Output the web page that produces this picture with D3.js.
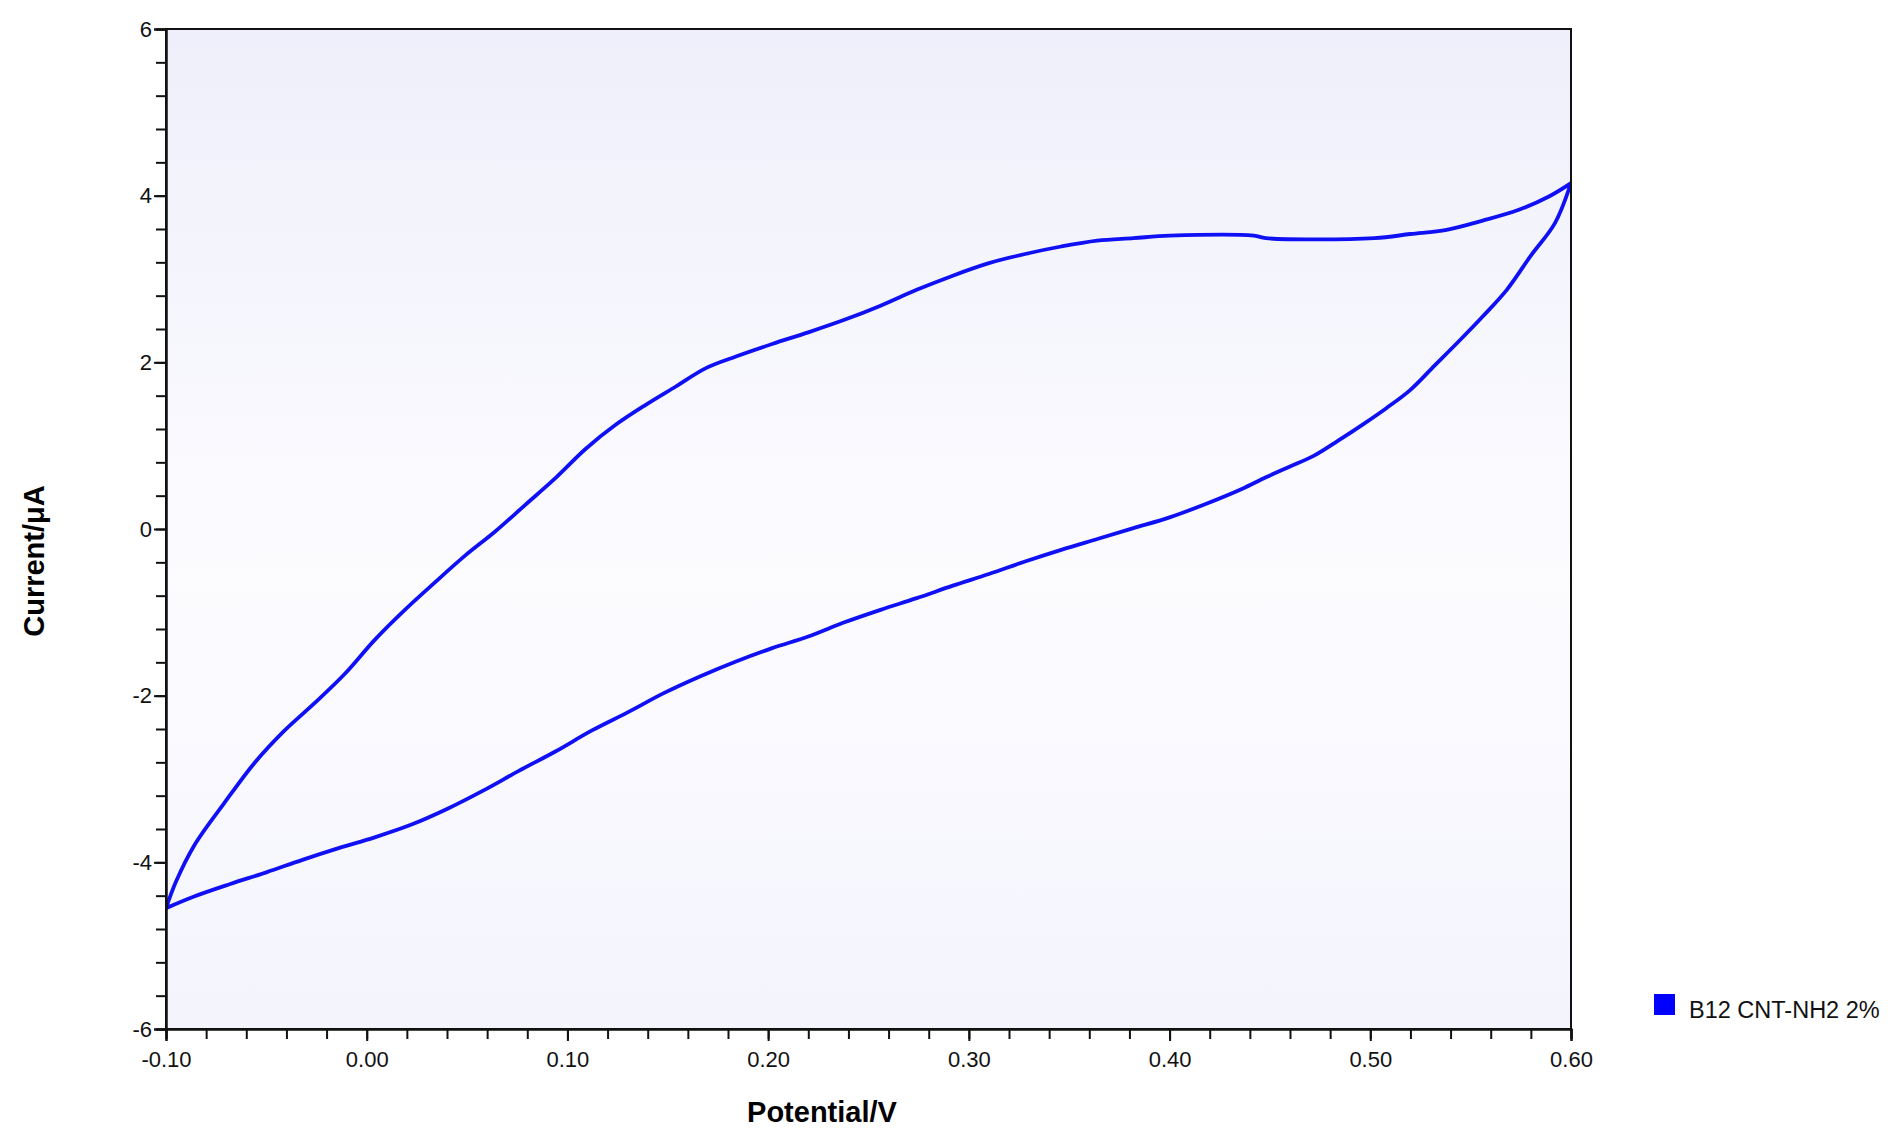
<!DOCTYPE html>
<html><head><meta charset="utf-8">
<script src="https://cdn.jsdelivr.net/npm/d3@7/dist/d3.min.js"></script>
<style>body{margin:0;background:#fff;overflow:hidden}</style></head>
<body><svg id="c" width="1890" height="1143"></svg>
<script>
const xTicks=[-0.10,0.00,0.10,0.20,0.30,0.40,0.50,0.60];
const yTicks=[-6,-4,-2,0,2,4,6];
const forwardE=[-0.1,-0.095,-0.086,-0.071,-0.056,-0.041,-0.026,-0.011,0.004,0.019,0.034,0.049,0.064,0.079,0.094,0.109,0.124,0.139,0.154,0.169,0.184,0.202,0.220,0.238,0.256,0.274,0.292,0.310,0.328,0.346,0.364,0.382,0.400,0.442,0.448,0.502,0.520,0.538,0.556,0.574,0.589,0.6];
const forwardI=[-4.55,-4.23,-3.8,-3.29,-2.81,-2.42,-2.09,-1.74,-1.33,-0.97,-0.64,-0.32,-0.03,0.29,0.61,0.96,1.25,1.49,1.71,1.93,2.07,2.22,2.36,2.51,2.68,2.87,3.04,3.19,3.30,3.39,3.46,3.49,3.52,3.52,3.49,3.49,3.54,3.59,3.70,3.83,3.99,4.15];
const reverseE=[0.6,0.592,0.580,0.568,0.556,0.544,0.532,0.520,0.508,0.496,0.484,0.472,0.460,0.448,0.436,0.418,0.400,0.382,0.364,0.346,0.328,0.310,0.292,0.274,0.256,0.238,0.220,0.202,0.184,0.166,0.148,0.130,0.112,0.094,0.076,0.058,0.040,0.022,0.004,-0.014,-0.032,-0.050,-0.068,-0.086,-0.1];
const reverseI=[4.15,3.67,3.28,2.87,2.55,2.25,1.96,1.67,1.45,1.25,1.06,0.88,0.75,0.62,0.48,0.30,0.14,0.01,-0.12,-0.25,-0.39,-0.54,-0.68,-0.83,-0.97,-1.12,-1.29,-1.43,-1.59,-1.77,-1.97,-2.20,-2.42,-2.67,-2.90,-3.14,-3.36,-3.55,-3.70,-3.83,-3.97,-4.12,-4.26,-4.41,-4.55];
const seriesName="B12 CNT-NH2 2%";

const L=166,R=1571,T=29,B=1029;
const svg=d3.select("#c");
const x=d3.scaleLinear().domain([-0.1,0.6]).range([L,R]);
const y=d3.scaleLinear().domain([-6,6]).range([B,T]);
const defs=svg.append("defs");
const g=defs.append("linearGradient").attr("id","bg").attr("x1",0).attr("y1",0).attr("x2",0).attr("y2",1);
g.append("stop").attr("offset","0%").attr("stop-color","#efeffb");
g.append("stop").attr("offset","55%").attr("stop-color","#fcfcff");
g.append("stop").attr("offset","100%").attr("stop-color","#f4f4fd");
defs.append("clipPath").attr("id","clip").append("rect").attr("x",L).attr("y",T).attr("width",R-L).attr("height",B-T);
svg.append("rect").attr("x",L).attr("y",T).attr("width",R-L).attr("height",B-T).attr("fill","url(#bg)");

const pts=forwardE.map((e,i)=>[e,forwardI[i]]).concat(reverseE.map((e,i)=>[e,reverseI[i]]));
svg.append("path").datum(pts).attr("clip-path","url(#clip)")
 .attr("d",d3.line().x(d=>x(d[0])).y(d=>y(d[1])).curve(d3.curveCatmullRom))
 .attr("fill","none").attr("stroke","#1010f5").attr("stroke-width",3.8);

svg.append("rect").attr("x",L).attr("y",T).attr("width",R-L).attr("height",B-T).attr("fill","none").attr("stroke","#111").attr("stroke-width",2);

const font="Liberation Sans, Arial, sans-serif";
const hy=f=>d=>f(d).replace("\u2212","-");
const xa=svg.append("g").attr("transform",`translate(0,${B})`)
 .call(d3.axisBottom(x).tickValues(d3.range(-0.1,0.6001,0.02)).tickSize(10).tickFormat(""));
const xb=svg.append("g").attr("transform",`translate(0,${B})`)
 .call(d3.axisBottom(x).tickValues(xTicks).tickSize(12).tickPadding(10).tickFormat(hy(d3.format(".2f"))));
const ya=svg.append("g").attr("transform",`translate(${L},0)`)
 .call(d3.axisLeft(y).tickValues(d3.range(-6,6.001,0.4)).tickSize(10).tickFormat(""));
const yb=svg.append("g").attr("transform",`translate(${L},0)`)
 .call(d3.axisLeft(y).tickValues(yTicks).tickSize(12).tickPadding(2).tickFormat(hy(d3.format("d"))));
[xa,xb,ya,yb].forEach(a=>{a.select(".domain").attr("stroke","#111").attr("stroke-width",2);
 a.selectAll("line").attr("stroke","#111").attr("stroke-width",2);
 a.selectAll("text").attr("font-family",font).attr("font-size",22).attr("fill","#111");});

svg.append("text").attr("x",822).attr("y",1122).attr("text-anchor","middle")
 .attr("font-family",font).attr("font-weight","bold").attr("font-size",29).text("Potential/V");
svg.append("text").attr("transform",`translate(44,561) rotate(-90)`).attr("text-anchor","middle")
 .attr("font-family",font).attr("font-weight","bold").attr("font-size",29).text("Current/μA");

svg.append("rect").attr("x",1654).attr("y",994).attr("width",21).attr("height",21).attr("fill","#0000ff");
svg.append("text").attr("x",1689).attr("y",1018).attr("font-family",font).attr("font-size",23.5).attr("fill","#111").text(seriesName);
</script></body></html>
